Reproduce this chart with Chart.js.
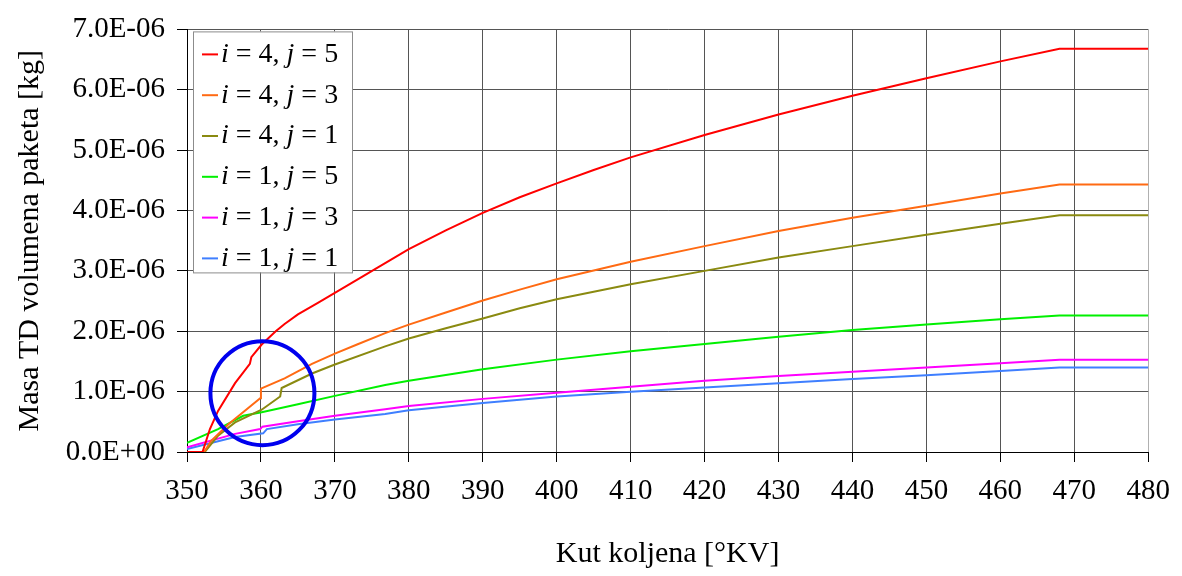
<!DOCTYPE html>
<html>
<head>
<meta charset="utf-8">
<script src="https://cdn.jsdelivr.net/npm/chart.js@4"></script>
<style>
  body { margin: 0; background: #fff; }
  canvas { display: block; }
</style>
</head>
<body>
<canvas id="masaChart" width="1182" height="576"></canvas>
<script>
// vrijednosti mase su u jedinicama 1E-06 kg
const kut45 = [350, 352.1, 353.1, 354.2, 356.5, 358.5, 358.7, 360.1, 362, 363.2, 365, 367.7, 372, 376, 380, 385, 390, 395, 400, 405, 410, 420, 430, 440, 450, 460, 468, 480];
const masa45 = [0, 0, 0.38, 0.68, 1.14, 1.46, 1.57, 1.78, 2.0, 2.12, 2.28, 2.47, 2.78, 3.07, 3.36, 3.67, 3.96, 4.22, 4.45, 4.67, 4.88, 5.25, 5.59, 5.90, 6.19, 6.47, 6.68, 6.68];

const kut43 = [350, 352.3, 353.3, 355.6, 359.9, 360, 363.2, 366.9, 370, 373, 376.8, 380, 385, 390, 395, 400, 410, 420, 430, 440, 450, 460, 468, 480];
const masa43 = [0, 0, 0.19, 0.46, 0.89, 1.05, 1.22, 1.46, 1.63, 1.78, 1.97, 2.11, 2.31, 2.51, 2.69, 2.86, 3.15, 3.41, 3.66, 3.88, 4.08, 4.28, 4.43, 4.43];

const kut41 = [350, 352.4, 354.2, 356.5, 360.1, 362.6, 362.8, 366.9, 370, 376.8, 380, 385, 390, 395, 400, 410, 420, 430, 440, 450, 460, 468, 480];
const masa41 = [0, 0, 0.27, 0.49, 0.70, 0.92, 1.06, 1.30, 1.45, 1.75, 1.88, 2.05, 2.21, 2.38, 2.53, 2.78, 3.00, 3.22, 3.41, 3.60, 3.78, 3.92, 3.92];

const kut15 = [350, 354.2, 357.6, 360.1, 365, 370, 376.8, 380, 390, 400, 410, 420, 430, 440, 450, 460, 468, 480];
const masa15 = [0.15, 0.38, 0.60, 0.66, 0.79, 0.93, 1.11, 1.18, 1.37, 1.53, 1.67, 1.79, 1.91, 2.02, 2.11, 2.20, 2.26, 2.26];

const kut13 = [350, 356.5, 359.9, 360.2, 365, 370, 376.8, 380, 390, 400, 410, 420, 430, 440, 450, 460, 468, 480];
const masa13 = [0.08, 0.30, 0.38, 0.42, 0.51, 0.60, 0.71, 0.76, 0.88, 0.98, 1.08, 1.18, 1.26, 1.33, 1.40, 1.47, 1.53, 1.53];

const kut11 = [350, 356.5, 360.3, 360.8, 365, 370, 376.8, 380, 390, 400, 410, 420, 430, 440, 450, 460, 468, 480];
const masa11 = [0.05, 0.25, 0.31, 0.38, 0.46, 0.54, 0.63, 0.69, 0.81, 0.92, 1.00, 1.07, 1.14, 1.21, 1.27, 1.34, 1.40, 1.40];

const serije = [
    { i: '4', j: '5', kut: kut45, masa: masa45, boja: '#ff0000' },
    { i: '4', j: '3', kut: kut43, masa: masa43, boja: '#ff6a13' },
    { i: '4', j: '1', kut: kut41, masa: masa41, boja: '#8a8a10' },
    { i: '1', j: '5', kut: kut15, masa: masa15, boja: '#00f000' },
    { i: '1', j: '3', kut: kut13, masa: masa13, boja: '#ff00ff' },
    { i: '1', j: '1', kut: kut11, masa: masa11, boja: '#3f7fff' }
];

// oznaceno podrucje (krug) u jedinicama osi
const krugKut = 360.2;
const krugMasa = 0.975;

const serif = "'Liberation Serif', 'Times New Roman', serif";

// krug oko skoka krivulja
const krugPlugin = {
    id: 'krug',
    afterDatasetsDraw(chart) {
        const c = chart.ctx;
        const x = chart.scales.x.getPixelForValue(krugKut);
        const y = chart.scales.y.getPixelForValue(krugMasa);
        c.save();
        c.strokeStyle = '#0000ee';
        c.lineWidth = 4;
        c.beginPath();
        c.arc(x, y, 52, 0, Math.PI * 2);
        c.stroke();
        c.restore();
    }
};

// legenda s kurzivom za i, j
const legendaPlugin = {
    id: 'legenda',
    afterDraw(chart) {
        const c = chart.ctx;
        const a = chart.chartArea;
        const left = a.left + 6, top = a.top + 2;
        const w = 159, h = 241;
        c.save();
        c.fillStyle = '#fff';
        c.fillRect(left, top, w, h);
        c.strokeStyle = '#8c8c8c';
        c.lineWidth = 1;
        c.strokeRect(left + 0.5, top + 0.5, w, h);
        c.textBaseline = 'middle';
        serije.forEach((s, k) => {
            const y = top + 23 + k * 40.8;
            c.strokeStyle = s.boja;
            c.lineWidth = 2;
            c.beginPath();
            c.moveTo(left + 9, y);
            c.lineTo(left + 25, y);
            c.stroke();
            let x = left + 28;
            const dijelovi = [
                ['italic', 'i'], ['normal', ' = ' + s.i + ', '],
                ['italic', 'j'], ['normal', ' = ' + s.j]
            ];
            c.fillStyle = '#000';
            dijelovi.forEach(([stil, txt]) => {
                c.font = stil + ' 28px ' + serif;
                c.fillText(txt, x, y);
                x += c.measureText(txt).width;
            });
        });
        c.restore();
    }
};

const ctx = document.getElementById('masaChart').getContext('2d');

const masaChart = new Chart(ctx, {
    type: 'line',
    data: {
        datasets: serije.map(s => ({
            label: 'i = ' + s.i + ', j = ' + s.j,
            data: s.kut.map((k, n) => ({ x: k, y: s.masa[n] })),
            borderColor: s.boja,
            backgroundColor: s.boja,
            borderWidth: 2,
            pointRadius: 0,
            tension: 0,
            fill: false
        }))
    },
    options: {
        responsive: false,
        animation: false,
        devicePixelRatio: 1,
        layout: {
            padding: { top: 19, right: 33, left: 0, bottom: 0 }
        },
        scales: {
            x: {
                type: 'linear',
                min: 350,
                max: 480,
                ticks: {
                    stepSize: 10,
                    color: '#000',
                    padding: 12,
                    maxRotation: 0,
                    font: { family: serif, size: 29 }
                },
                grid: {
                    color: ctx => ctx.tick && ctx.tick.value === 480 ? '#b0b0b0' : '#555',
                    tickColor: '#000',
                    tickLength: 10
                },
                border: { color: '#000', width: 1 },
                title: {
                    display: true,
                    text: 'Kut koljena [°KV]',
                    color: '#000',
                    font: { family: serif, size: 30 },
                    padding: { top: 0, bottom: 4 }
                },
                afterFit: s => { s.height = 124; }
            },
            y: {
                min: 0,
                max: 7,
                ticks: {
                    stepSize: 1,
                    color: '#000',
                    padding: 12,
                    font: { family: serif, size: 29 },
                    callback: v => v === 0 ? '0.0E+00' : v.toFixed(1) + 'E-06'
                },
                grid: {
                    color: '#555',
                    tickColor: '#000',
                    tickLength: 10
                },
                border: { color: '#000', width: 1 },
                title: {
                    display: true,
                    text: 'Masa TD volumena paketa [kg]',
                    color: '#000',
                    font: { family: serif, size: 30 },
                    padding: { top: 12, bottom: 0 }
                },
                afterFit: s => { s.width = 187; }
            }
        },
        plugins: {
            legend: { display: false },
            tooltip: { enabled: false }
        }
    },
    plugins: [krugPlugin, legendaPlugin]
});
</script>
</body>
</html>
